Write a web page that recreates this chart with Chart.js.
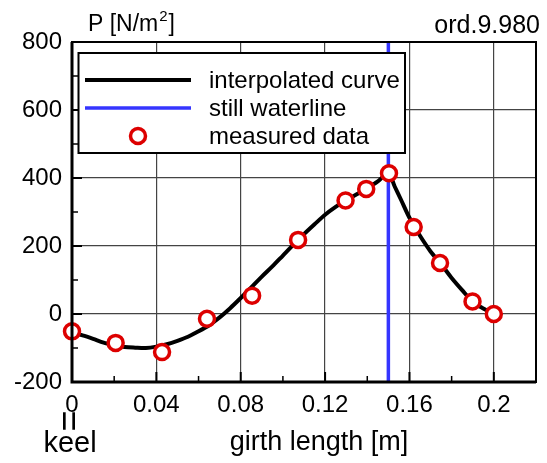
<!DOCTYPE html>
<html>
<head>
<meta charset="utf-8">
<script src="https://cdn.jsdelivr.net/npm/chart.js@4.4.1/dist/chart.umd.min.js"></script>
<style>
  html, body { margin: 0; padding: 0; background: #ffffff; }
  #wrap { position: relative; width: 547px; height: 463px; }
  canvas { display: block; }
</style>
</head>
<body>
<div id="wrap"><canvas id="c" width="547" height="463"></canvas></div>
<script>
// ---- data ----
const measuredX = [0, 0.0207, 0.0427, 0.064, 0.0854, 0.1072, 0.1297, 0.1395, 0.1503, 0.162, 0.1745, 0.1899, 0.2];
const measuredP = [-51, -85, -112, -14, 54, 218, 334, 368, 414, 256, 150, 37, 0];

const curveX = [0, 0.005, 0.01, 0.015, 0.02, 0.025, 0.03, 0.035, 0.04, 0.045, 0.05, 0.055, 0.06, 0.065,
                0.07, 0.075, 0.08, 0.085, 0.09, 0.095, 0.1, 0.105, 0.11, 0.115, 0.12, 0.125, 0.13, 0.135,
                0.14, 0.145, 0.15, 0.153, 0.156, 0.16, 0.165, 0.17, 0.175, 0.18, 0.185, 0.19, 0.195, 0.2];
const curveP = [-55, -63, -73, -84, -91, -97, -99, -100, -96, -89, -79, -67, -51, -33,
                -10, 17, 47, 78, 110, 140, 172, 204, 235, 264, 292, 315, 335, 352,
                370, 390, 414, 375, 336, 283, 230, 184, 147, 106, 70, 36, 16, 0];

const waterlineX = [0.15, 0.15];
const waterlineP = [-200, 800];

const xTickValues = [0, 0.04, 0.08, 0.12, 0.16, 0.2];
const xMinorValues = [0.02, 0.06, 0.1, 0.14, 0.18];
const yTickValues = [-200, 0, 200, 400, 600, 800];
const yMinorValues = [-100, 100, 300, 500, 700];

const legendLabels = ['interpolated curve', 'still waterline', 'measured data'];

const FONT = '"Liberation Sans", Arial, Helvetica, sans-serif';

function pts(xs, ys) { return xs.map((x, i) => ({ x: x, y: ys[i] })); }

const decorPlugin = {
  id: 'decor',
  afterDatasetsDraw(chart) {
    const ctx = chart.ctx;
    const a = chart.chartArea;
    const xs = chart.scales.x, ys = chart.scales.y;
    ctx.save();
    // inward ticks
    ctx.strokeStyle = '#000';
    ctx.lineWidth = 2;
    ctx.beginPath();
    yTickValues.forEach(v => { const p = ys.getPixelForValue(v); ctx.moveTo(a.left, p); ctx.lineTo(a.left + 10, p); });
    xTickValues.forEach(v => { const p = xs.getPixelForValue(v); ctx.moveTo(p, a.bottom); ctx.lineTo(p, a.bottom - 10); });
    ctx.stroke();
    ctx.lineWidth = 1.5;
    ctx.beginPath();
    yMinorValues.forEach(v => { const p = ys.getPixelForValue(v); ctx.moveTo(a.left, p); ctx.lineTo(a.left + 6, p); });
    xMinorValues.forEach(v => { const p = xs.getPixelForValue(v); ctx.moveTo(p, a.bottom); ctx.lineTo(p, a.bottom - 6); });
    ctx.stroke();
    // frame
    ctx.lineWidth = 2;
    ctx.strokeRect(a.left, a.top, a.right - a.left, a.bottom - a.top);
    ctx.lineWidth = 3;
    ctx.beginPath();
    ctx.moveTo(a.left, a.top); ctx.lineTo(a.left, a.bottom); ctx.lineTo(a.right, a.bottom);
    ctx.stroke();

    // legend
    const lx = 78.5, ly = 53, lw = 326.5, lh = 100;
    ctx.fillStyle = '#fff';
    ctx.fillRect(lx, ly, lw, lh);
    ctx.lineWidth = 2;
    ctx.strokeStyle = '#000';
    ctx.strokeRect(lx, ly, lw, lh);
    const ds = chart.data.datasets;
    const rowY = [80, 108, 136];
    [0, 1].forEach(i => {
      ctx.strokeStyle = ds[i].borderColor;
      ctx.lineWidth = ds[i].borderWidth;
      ctx.beginPath(); ctx.moveTo(85, rowY[i]); ctx.lineTo(191, rowY[i]); ctx.stroke();
    });
    ctx.strokeStyle = ds[2].pointBorderColor;
    ctx.fillStyle = ds[2].pointBackgroundColor;
    ctx.lineWidth = ds[2].pointBorderWidth;
    ctx.beginPath(); ctx.arc(138, rowY[2], 7.5, 0, Math.PI * 2); ctx.fill(); ctx.stroke();
    ctx.fillStyle = '#000';
    ctx.font = '24px ' + FONT;
    ctx.textAlign = 'left';
    ctx.textBaseline = 'middle';
    legendLabels.forEach((t, i) => ctx.fillText(t, 209, rowY[i] + 1));

    // titles
    ctx.textBaseline = 'alphabetic';
    ctx.textAlign = 'left';
    ctx.font = '23px ' + FONT;
    let tx = 88;
    ctx.fillText('P [N/m', tx, 31);
    tx += ctx.measureText('P [N/m').width + 1;
    ctx.font = '15px ' + FONT;
    ctx.fillText('2', tx, 21);
    tx += ctx.measureText('2').width + 1;
    ctx.font = '23px ' + FONT;
    ctx.fillText(']', tx, 31);

    ctx.font = '25px ' + FONT;
    ctx.textAlign = 'right';
    ctx.fillText('ord.9.980', 540, 33);
    ctx.font = '27px ' + FONT;
    ctx.textAlign = 'center';
    ctx.fillText('girth length [m]', 319, 450);
    ctx.font = '29px ' + FONT;
    ctx.fillText('keel', 70, 452);
    ctx.save();
    ctx.translate(69, 421);
    ctx.rotate(Math.PI / 2);
    ctx.font = '36px ' + FONT;
    ctx.textBaseline = 'middle';
    ctx.fillText('=', 0, 2);
    ctx.restore();
    ctx.restore();
  }
};

new Chart(document.getElementById('c'), {
  type: 'scatter',
  data: {
    datasets: [
      {
        label: legendLabels[0], type: 'line', data: pts(curveX, curveP),
        borderColor: '#000000', borderWidth: 4, pointRadius: 0, tension: 0.3,
        fill: false, order: 2
      },
      {
        label: legendLabels[1], type: 'line', data: pts(waterlineX, waterlineP),
        borderColor: '#3535ff', borderWidth: 3.5, pointRadius: 0, fill: false, order: 3
      },
      {
        label: legendLabels[2], data: pts(measuredX, measuredP),
        pointRadius: 7.5, pointBorderWidth: 3.5, pointBorderColor: '#dd0000',
        pointBackgroundColor: '#ffffff', borderColor: '#dd0000', backgroundColor: '#ffffff',
        pointHoverRadius: 7.5, clip: false, order: 1
      }
    ]
  },
  options: {
    responsive: false,
    animation: false,
    devicePixelRatio: 1,
    layout: { padding: { left: 0, right: 4, top: 42, bottom: 0 } },
    plugins: { legend: { display: false }, tooltip: { enabled: false } },
    scales: {
      x: {
        type: 'linear', min: 0, max: 0.22,
        afterBuildTicks(s) { s.ticks = xTickValues.map(v => ({ value: v })); },
        afterFit(s) { s.height = 81; },
        ticks: {
          color: '#000', font: { size: 24, family: FONT }, padding: 9, maxRotation: 0,
          callback: v => String(parseFloat(Number(v).toFixed(2)))
        },
        grid: { color: '#444', lineWidth: 1.2, drawTicks: false },
        border: { display: false }
      },
      y: {
        type: 'linear', min: -200, max: 800,
        afterBuildTicks(s) { s.ticks = yTickValues.map(v => ({ value: v })); },
        afterFit(s) { s.width = 72; },
        ticks: { color: '#000', font: { size: 24, family: FONT }, padding: 10 },
        grid: { color: '#444', lineWidth: 1.2, drawTicks: false },
        border: { display: false }
      }
    }
  },
  plugins: [decorPlugin]
});
</script>
</body>
</html>
